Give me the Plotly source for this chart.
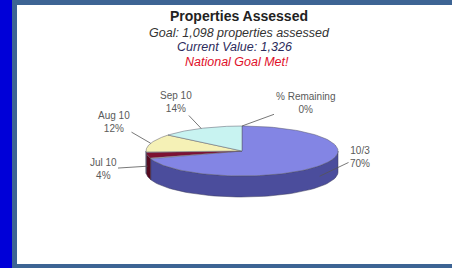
import numpy as np
import plotly.graph_objects as go

# ---- data ----
labels = ["10/3", "Jul 10", "Aug 10", "Sep 10", "% Remaining"]
values = [70, 4, 12, 14, 0]
top_colors = ["#8385e4", "#7d1232", "#f5f1b6", "#c8f3f1", "#ffffff"]
side_colors = ["#4b4d9c", "#560a1f", "#cfc98a", "#9fcfcc", "#ffffff"]

title_text = "Properties Assessed"
goal_text = "Goal: 1,098 properties assessed"
current_text = "Current Value: 1,326"
met_text = "National Goal Met!"

# ---- layout / geometry (pixel-like coordinates) ----
W, H = 452, 268
CX, CY, RX, RY, DEPTH = 242, 151, 96, 25, 21
label_pos = {
    "10/3": (360, 157),
    "Jul 10": (103, 169),
    "Aug 10": (114, 122),
    "Sep 10": (176, 102),
    "% Remaining": (305, 103),
}
FONT = "Liberation Sans, Arial, sans-serif"


def ell(theta_deg, dy=0.0):
    t = np.radians(theta_deg)
    return CX + RX * np.sin(t), CY - RY * np.cos(t) + dy


fig = go.Figure()

total = float(sum(values))
starts, ends = [], []
acc = 0.0
for v in values:
    a = acc / total * 360.0
    acc += v
    b = acc / total * 360.0
    starts.append(a)
    ends.append(b)

# side walls (front half: 90..270 deg)
for lab, a, b, sc in zip(labels, starts, ends, side_colors):
    lo, hi = max(a, 90.0), min(b, 270.0)
    if hi <= lo:
        continue
    th = np.linspace(lo, hi, 60)
    xt, yt = ell(th)
    xb, yb = ell(th[::-1], DEPTH)
    xs = np.concatenate([xt, xb, xt[:1]])
    ys = np.concatenate([yt, yb, yt[:1]])
    fig.add_trace(go.Scatter(x=xs, y=ys, mode="lines", fill="toself",
                             fillcolor=sc, line=dict(color="#3a3a5a", width=0.5),
                             hoverinfo="skip", showlegend=False))

# top faces
for lab, a, b, tc in zip(labels, starts, ends, top_colors):
    if b - a <= 0:
        continue
    th = np.linspace(a, b, 120)
    xa, ya = ell(th)
    xs = np.concatenate([[CX], xa, [CX]])
    ys = np.concatenate([[CY], ya, [CY]])
    fig.add_trace(go.Scatter(x=xs, y=ys, mode="lines", fill="toself",
                             fillcolor=tc, line=dict(color="#5a5a6a", width=0.5),
                             hoverinfo="skip", showlegend=False))

# labels with leader lines
for lab, v, a, b in zip(labels, values, starts, ends):
    mid = (a + b) / 2.0
    px, py = ell(mid)
    if np.cos(np.radians(mid)) < 0:
        py += DEPTH * 0.5
    lx, ly = label_pos[lab]
    fig.add_annotation(x=px, y=py, ax=lx, ay=ly, axref="x", ayref="y",
                       xref="x", yref="y", text=f"{lab}<br>{v}%",
                       showarrow=True, arrowhead=0, arrowwidth=0.8,
                       arrowcolor="#555555", standoff=0,
                       font=dict(family=FONT, size=10, color="#5a5a5a"))

# titles
fig.add_annotation(x=239, y=16, xref="x", yref="y", text=f"<b>{title_text}</b>",
                   showarrow=False, font=dict(family=FONT, size=14, color="#222222"))
fig.add_annotation(x=239, y=33, xref="x", yref="y", text=f"<i>{goal_text}</i>",
                   showarrow=False, font=dict(family=FONT, size=12.5, color="#333333"))
fig.add_annotation(x=234, y=47, xref="x", yref="y", text=f"<i>{current_text}</i>",
                   showarrow=False, font=dict(family=FONT, size=12.5, color="#2c2c5c"))
fig.add_annotation(x=237, y=62, xref="x", yref="y", text=f"<i>{met_text}</i>",
                   showarrow=False, font=dict(family=FONT, size=12.5, color="#e0102a"))

# background frame
fig.add_shape(type="rect", x0=17, x1=W + 2, y0=5, y1=264, xref="x", yref="y",
              fillcolor="#ffffff", line=dict(width=0), layer="below")
fig.add_shape(type="rect", x0=-2, x1=12, y0=-2, y1=H + 2, xref="x", yref="y",
              fillcolor="#0000d8", line=dict(width=0), layer="below")

fig.update_layout(
    width=W, height=H,
    margin=dict(l=0, r=0, t=0, b=0),
    paper_bgcolor="#3d6494",
    plot_bgcolor="#3d6494",
    xaxis=dict(range=[0, W], visible=False, fixedrange=True),
    yaxis=dict(range=[H, 0], visible=False, fixedrange=True),
    showlegend=False,
)

fig.write_html("out.html", config={"displayModeBar": False},
               post_script="document.body.style.margin='0';document.body.style.padding='0';document.body.style.overflow='hidden';")
